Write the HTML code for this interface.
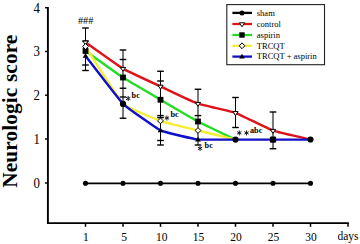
<!DOCTYPE html><html><head><meta charset="utf-8"><style>html,body{margin:0;padding:0;background:#fff}body{width:360px;height:244px;position:relative;overflow:hidden;font-family:"Liberation Serif",serif}</style></head><body>
<svg width="360" height="244" viewBox="0 0 360 244" style="position:absolute;left:0;top:0">
<g stroke="#000" stroke-width="1.9" fill="none">
<path d="M47.9,6.9 V223.1 H348.9"/>
<path d="M45.1,7.7 H47.9" stroke-width="1.5"/>
<path d="M45.1,51.5 H47.9" stroke-width="1.5"/>
<path d="M45.1,95.2 H47.9" stroke-width="1.5"/>
<path d="M45.1,139 H47.9" stroke-width="1.5"/>
<path d="M45.1,183 H47.9" stroke-width="1.5"/>
<path d="M85.5,223.1 V226.8" stroke-width="1.5"/>
<path d="M123,223.1 V226.8" stroke-width="1.5"/>
<path d="M160.5,223.1 V226.8" stroke-width="1.5"/>
<path d="M198,223.1 V226.8" stroke-width="1.5"/>
<path d="M235.5,223.1 V226.8" stroke-width="1.5"/>
<path d="M273,223.1 V226.8" stroke-width="1.5"/>
<path d="M310.5,223.1 V226.8" stroke-width="1.5"/>
<path d="M348,223.1 V226.8" stroke-width="1.5"/>
</g>
<g stroke="#000" stroke-width="1.05" fill="none">
<path d="M85.5,28 V70.5"/>
<path d="M82.2,28 H88.8" stroke-width="1.4"/>
<path d="M82.2,41 H88.8" stroke-width="1.4"/>
<path d="M82.2,65 H88.8" stroke-width="1.4"/>
<path d="M82.2,70.5 H88.8" stroke-width="1.4"/>
<path d="M123,50 V118.25"/>
<path d="M119.7,50 H126.3" stroke-width="1.4"/>
<path d="M119.7,59.5 H126.3" stroke-width="1.4"/>
<path d="M119.7,88.25 H126.3" stroke-width="1.4"/>
<path d="M119.7,97 H126.3" stroke-width="1.4"/>
<path d="M119.7,118.25 H126.3" stroke-width="1.4"/>
<path d="M160.5,71.25 V145"/>
<path d="M157.2,71.25 H163.8" stroke-width="1.4"/>
<path d="M157.2,81 H163.8" stroke-width="1.4"/>
<path d="M157.2,115.6 H163.8" stroke-width="1.4"/>
<path d="M157.2,117.6 H163.8" stroke-width="1.4"/>
<path d="M157.2,140.5 H163.8" stroke-width="1.4"/>
<path d="M157.2,145 H163.8" stroke-width="1.4"/>
<path d="M198,89.25 V145"/>
<path d="M194.7,89.25 H201.3" stroke-width="1.4"/>
<path d="M194.7,115.6 H201.3" stroke-width="1.4"/>
<path d="M194.7,145 H201.3" stroke-width="1.4"/>
<path d="M235.5,97.5 V127.5"/>
<path d="M232.2,97.5 H238.8" stroke-width="1.4"/>
<path d="M232.2,127.5 H238.8" stroke-width="1.4"/>
<path d="M273,112 V148.75"/>
<path d="M269.7,112 H276.3" stroke-width="1.4"/>
<path d="M269.7,148.75 H276.3" stroke-width="1.4"/>
</g>
<path d="M85.5,183.3 C87.4,183.3 119.2,183.3 123.0,183.3 C126.8,183.3 156.8,183.3 160.5,183.3 C164.2,183.3 194.2,183.3 198.0,183.3 C201.8,183.3 231.8,183.3 235.5,183.3 C239.2,183.3 269.2,183.3 273.0,183.3 C276.8,183.3 308.6,183.3 310.5,183.3" fill="none" stroke="#000" stroke-width="1.7" stroke-linejoin="round"/>
<path d="M85.5,42.3 C87.4,43.6 119.2,66.4 123.0,68.6 C126.8,70.8 156.8,84.7 160.5,86.4 C164.2,88.2 194.2,102.3 198.0,103.6 C201.8,104.9 231.8,111.5 235.5,112.8 C239.2,114.1 269.2,129.3 273.0,130.6 C276.8,131.9 308.6,139.2 310.5,139.6" fill="none" stroke="#de1219" stroke-width="2.4" stroke-linejoin="round"/>
<path d="M85.5,51.0 C87.4,52.3 119.2,75.1 123.0,77.5 C126.8,79.9 156.8,97.5 160.5,99.8 C164.2,102.0 194.2,119.5 198.0,121.5 C201.8,123.5 233.6,138.7 235.5,139.6" fill="none" stroke="#22dd22" stroke-width="2.4" stroke-linejoin="round"/>
<path d="M85.5,46.5 C87.4,49.4 119.2,100.0 123.0,103.8 C126.8,107.5 156.8,119.6 160.5,120.9 C164.2,122.2 194.2,129.6 198.0,130.5 C201.8,131.4 233.6,139.1 235.5,139.6" fill="none" stroke="#f5ee30" stroke-width="2.4" stroke-linejoin="round"/>
<path d="M85.5,55.9 C87.4,58.3 119.2,100.0 123.0,103.8 C126.8,107.5 156.8,128.6 160.5,130.4 C164.2,132.2 194.2,139.1 198.0,139.6 C201.8,139.6 231.8,139.6 235.5,139.6 C239.2,139.6 269.2,139.6 273.0,139.6 C276.8,139.6 308.6,139.6 310.5,139.6" fill="none" stroke="#1010c8" stroke-width="2.4" stroke-linejoin="round"/>
<circle cx="85.5" cy="183.3" r="2.55" fill="#000"/>
<circle cx="123" cy="183.3" r="2.55" fill="#000"/>
<circle cx="160.5" cy="183.3" r="2.55" fill="#000"/>
<circle cx="198" cy="183.3" r="2.55" fill="#000"/>
<circle cx="235.5" cy="183.3" r="2.55" fill="#000"/>
<circle cx="273" cy="183.3" r="2.55" fill="#000"/>
<circle cx="310.5" cy="183.3" r="2.55" fill="#000"/>
<path d="M82.90,41.10 L88.10,41.10 L85.5,45.10Z" fill="#fff" stroke="#000" stroke-width="1"/>
<path d="M120.40,67.40 L125.60,67.40 L123,71.40Z" fill="#fff" stroke="#000" stroke-width="1"/>
<path d="M157.90,85.20 L163.10,85.20 L160.5,89.20Z" fill="#fff" stroke="#000" stroke-width="1"/>
<path d="M195.40,102.40 L200.60,102.40 L198,106.40Z" fill="#fff" stroke="#000" stroke-width="1"/>
<path d="M232.90,111.60 L238.10,111.60 L235.5,115.60Z" fill="#fff" stroke="#000" stroke-width="1"/>
<path d="M270.40,129.40 L275.60,129.40 L273,133.40Z" fill="#fff" stroke="#000" stroke-width="1"/>
<rect x="82.60" y="48.10" width="5.80" height="5.80" fill="#000"/>
<rect x="120.10" y="74.60" width="5.80" height="5.80" fill="#000"/>
<rect x="157.60" y="96.85" width="5.80" height="5.80" fill="#000"/>
<rect x="195.10" y="118.60" width="5.80" height="5.80" fill="#000"/>
<path d="M82.60,46.5 L85.5,43.60 L88.40,46.5 L85.5,49.40Z" fill="#fff" stroke="#000" stroke-width="1"/>
<path d="M157.60,120.9 L160.5,118.00 L163.40,120.9 L160.5,123.80Z" fill="#fff" stroke="#000" stroke-width="1"/>
<path d="M195.10,130.5 L198,127.60 L200.90,130.5 L198,133.40Z" fill="#fff" stroke="#000" stroke-width="1"/>
<path d="M82.70,57.80 L88.30,57.80 L85.5,53.00Z" fill="#000"/>
<path d="M157.70,132.30 L163.30,132.30 L160.5,127.50Z" fill="#000"/>
<path d="M195.20,141.50 L200.80,141.50 L198,136.70Z" fill="#000"/>
<circle cx="123" cy="103.9" r="3.1" fill="#000"/>
<circle cx="235.5" cy="139.6" r="3.1" fill="#000"/>
<circle cx="310.5" cy="139.5" r="3.1" fill="#000"/>
<rect x="269.9" y="136.5" width="6.2" height="6.2" rx="1.2" fill="#000"/>
<rect x="226.8" y="4.6" width="97.7" height="60.1" fill="#fff" stroke="#222" stroke-width="1.1"/>
<path d="M232.4,12.9 H252" stroke="#000" stroke-width="2.3"/>
<circle cx="242" cy="12.9" r="2.50" fill="#000"/>
<text x="256.8" y="15.7" font-size="8.5" font-family="Liberation Serif, serif">sham</text>
<path d="M232.4,24.0 H252" stroke="#de1219" stroke-width="2.3"/>
<path d="M239.40,22.80 L244.60,22.80 L242,26.80Z" fill="#fff" stroke="#000" stroke-width="1"/>
<text x="256.8" y="26.8" font-size="8.5" font-family="Liberation Serif, serif">control</text>
<path d="M232.4,35.0 H252" stroke="#22dd22" stroke-width="2.3"/>
<rect x="239.30" y="32.30" width="5.39" height="5.39" fill="#000"/>
<text x="256.8" y="37.8" font-size="8.5" font-family="Liberation Serif, serif">aspirin</text>
<path d="M232.4,45.8 H252" stroke="#f5ee30" stroke-width="2.3"/>
<path d="M239.10,45.8 L242,42.90 L244.90,45.8 L242,48.70Z" fill="#fff" stroke="#000" stroke-width="1"/>
<text x="256.8" y="48.599999999999994" font-size="8.5" font-family="Liberation Serif, serif">TRCQT</text>
<path d="M232.4,56.6 H252" stroke="#1010c8" stroke-width="2.3"/>
<path d="M239.20,58.50 L244.80,58.50 L242,53.70Z" fill="#000"/>
<text x="256.8" y="59.4" font-size="8.5" font-family="Liberation Serif, serif">TRCQT + aspirin</text>
<text transform="translate(36.6,12.6) scale(0.92,1)" font-size="14" text-anchor="middle" font-family="Liberation Serif, serif">4</text>
<text transform="translate(36.6,56.1) scale(0.92,1)" font-size="14" text-anchor="middle" font-family="Liberation Serif, serif">3</text>
<text transform="translate(36.6,99.6) scale(0.92,1)" font-size="14" text-anchor="middle" font-family="Liberation Serif, serif">2</text>
<text transform="translate(36.6,143.6) scale(0.92,1)" font-size="14" text-anchor="middle" font-family="Liberation Serif, serif">1</text>
<text transform="translate(36.6,187.6) scale(0.92,1)" font-size="14" text-anchor="middle" font-family="Liberation Serif, serif">0</text>
<text transform="translate(85.9,240.6) scale(0.94,1)" font-size="12.2" text-anchor="middle" font-family="Liberation Serif, serif">1</text>
<text transform="translate(124.2,240.6) scale(0.94,1)" font-size="12.2" text-anchor="middle" font-family="Liberation Serif, serif">5</text>
<text transform="translate(161.7,240.6) scale(0.94,1)" font-size="12.2" text-anchor="middle" font-family="Liberation Serif, serif">10</text>
<text transform="translate(198.4,240.6) scale(0.94,1)" font-size="12.2" text-anchor="middle" font-family="Liberation Serif, serif">15</text>
<text transform="translate(235.9,240.6) scale(0.94,1)" font-size="12.2" text-anchor="middle" font-family="Liberation Serif, serif">20</text>
<text transform="translate(273.5,240.6) scale(0.94,1)" font-size="12.2" text-anchor="middle" font-family="Liberation Serif, serif">25</text>
<text transform="translate(311,240.6) scale(0.94,1)" font-size="12.2" text-anchor="middle" font-family="Liberation Serif, serif">30</text>
<text x="348" y="240.2" font-size="11.5" text-anchor="middle" font-family="Liberation Serif, serif">days</text>
<text transform="translate(17.2,111.2) rotate(-90)" letter-spacing="0.13" font-size="21.3" font-weight="bold" text-anchor="middle" font-family="Liberation Serif, serif">Neurologic score</text>
<text x="85.7" y="24.4" font-size="10.3" text-anchor="middle" font-family="Liberation Serif, serif">###</text>
<path d="M128.2,96.0 V101.0 M126.03,97.25 L130.36,99.75 M126.03,99.75 L130.36,97.25" stroke="#111" stroke-width="0.95" fill="none"/>
<text x="131.6" y="98.4" font-size="8.2" font-weight="bold" font-family="Liberation Serif, serif">bc</text>
<path d="M166.9,115.5 V120.5 M164.74,116.75 L169.06,119.25 M164.74,119.25 L169.06,116.75" stroke="#111" stroke-width="0.95" fill="none"/>
<text x="170.4" y="117" font-size="8.2" font-weight="bold" font-family="Liberation Serif, serif">bc</text>
<path d="M200,145.9 V150.9 M197.84,147.15 L202.16,149.65 M197.84,149.65 L202.16,147.15" stroke="#111" stroke-width="0.95" fill="none"/>
<text x="204.6" y="147.8" font-size="8.2" font-weight="bold" font-family="Liberation Serif, serif">bc</text>
<path d="M239.3,130.4 V135.4 M237.14,131.65 L241.47,134.15 M237.14,134.15 L241.47,131.65" stroke="#111" stroke-width="0.95" fill="none"/>
<path d="M246.5,130.4 V135.4 M244.34,131.65 L248.66,134.15 M244.34,134.15 L248.66,131.65" stroke="#111" stroke-width="0.95" fill="none"/>
<text x="250" y="132.6" font-size="8.2" font-weight="bold" font-family="Liberation Serif, serif">abc</text>
</svg>
</body></html>
